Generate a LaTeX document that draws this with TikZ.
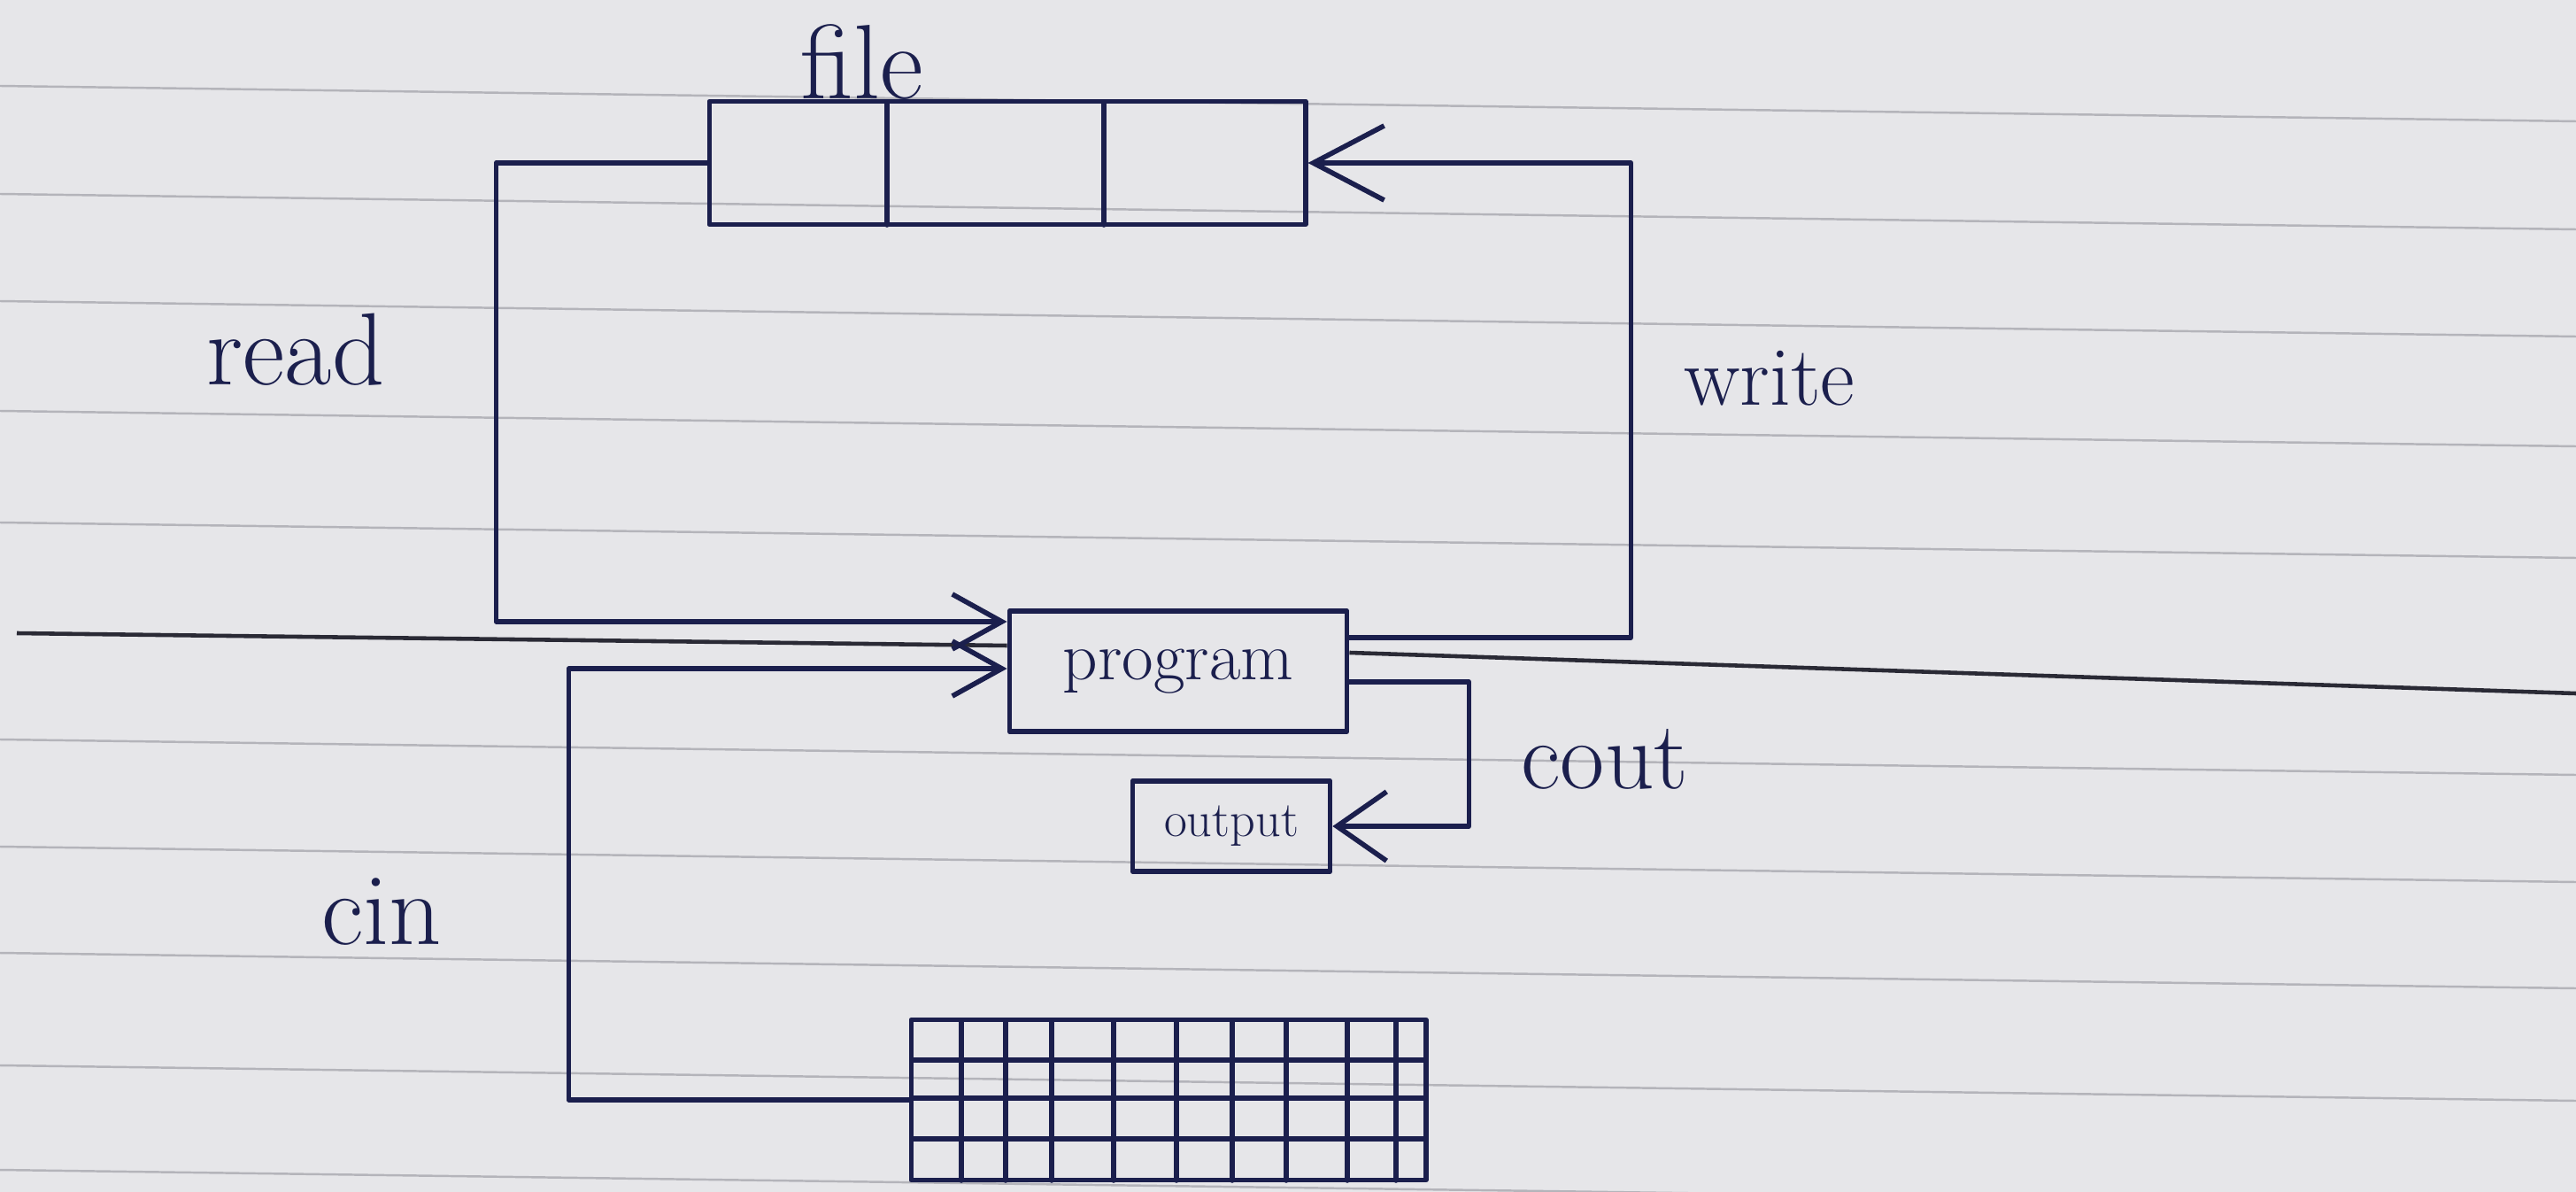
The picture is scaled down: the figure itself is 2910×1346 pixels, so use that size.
\documentclass[tikz,border=0pt]{standalone}
\usepackage{fontspec}
\usetikzlibrary{arrows.meta}
\definecolor{paper}{HTML}{E6E6E9}
\definecolor{rule}{HTML}{B4B4BA}
\definecolor{ink}{HTML}{1B1F4D}
\definecolor{darkrule}{HTML}{2A2A35}
\tikzset{
  pen/.style={draw=ink, line width=1.6pt, line cap=round, line join=round},
  boxnode/.style={pen, rectangle, inner sep=0pt},
  lbl/.style={text=ink, font=\fontsize{33}{36}\selectfont, inner sep=0pt},
  bigtip/.style={-{Straight Barb[length=0.8cm,width=0.84cm]}},
  midtip/.style={-{Straight Barb[length=0.56cm,width=0.62cm]}},
  outtip/.style={-{Straight Barb[length=0.56cm,width=0.78cm]}},
}
\begin{document}
\begin{tikzpicture}[x=0.01cm,y=-0.01cm]
\useasboundingbox (0,0) rectangle (2910,1346);
\fill[paper] (0,0) rectangle (2910,1346);
% ruled paper lines
\foreach \yy in {97,219,340,464,590,835,956,1076,1203,1321}
  \draw[rule, line width=0.7pt] (0,\yy) -- (2910,\yy+40);

% boxes
\node[boxnode, minimum width=6.73cm, minimum height=1.39cm] (file) at (1138,184) {};
\draw[pen] (1002,115) -- (1002,254);
\draw[pen] (1247,115) -- (1247,254);
\node[lbl, font=\fontsize{34}{36}\selectfont] (filelbl) at (974,70) {file};

\node[boxnode, minimum width=3.81cm, minimum height=1.36cm,
      font=\fontsize{22}{24}\selectfont, text=ink] (program) at (1331,758) {program};

\node[boxnode, minimum width=2.23cm, minimum height=1.02cm,
      font=\fontsize{16}{18}\selectfont, text=ink] (output) at (1391,933) {output};

\node[boxnode, minimum width=5.81cm, minimum height=1.81cm] (keyboard) at (1320,1242) {};
\foreach \xx in {1086,1136,1188,1258,1329,1392,1453,1522,1577}
  \draw[pen] (\xx,1152) -- (\xx,1333);
\foreach \yy in {1197,1240,1286}
  \draw[pen] (1030,\yy) -- (1611,\yy);

% dark long line through the program
\coordinate (lineL) at (19,715);
\coordinate (lineR) at (2910,783);
\draw[darkrule, line width=1.3pt] (lineL) -- ([yshift=0.29cm]program.west);
\draw[darkrule, line width=1.3pt] ([yshift=0.21cm]program.east) -- (lineR);

% connectors
\draw[pen, midtip] (file.west) -- ++(-238,0) |- ([yshift=0.56cm]program.west);
\draw[pen, midtip] (keyboard.west) -- ++(-384,0) |- ([yshift=0.03cm]program.west);
\draw[pen, bigtip] ([yshift=0.38cm]program.east) -- ++(318,0) |- (file.east);
\draw[pen, outtip] ([yshift=-0.12cm]program.east) -- ++(135,0) |- (output.east);

% labels
\node[lbl] (readlbl) at (334,395) {read};
\node[lbl, font=\fontsize{27}{30}\selectfont] (writelbl) at (1999,427) {write};
\node[lbl] (cinlbl) at (431,1030) {cin};
\node[lbl, font=\fontsize{31}{34}\selectfont] (coutlbl) at (1813,857) {cout};
\end{tikzpicture}
\end{document}
